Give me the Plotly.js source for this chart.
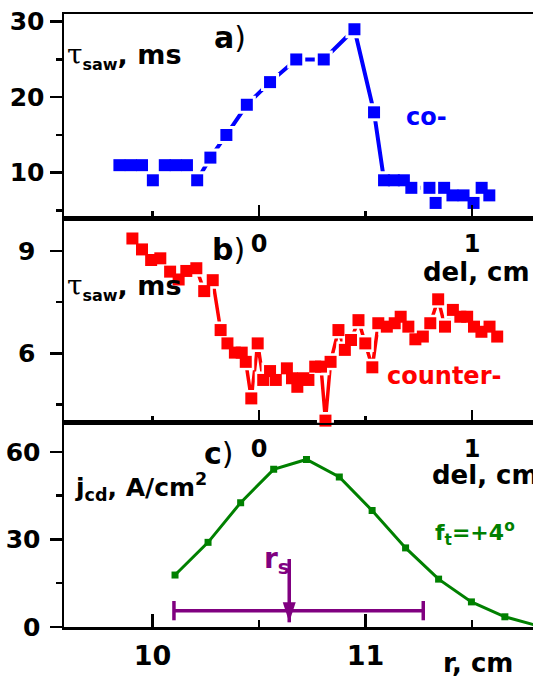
<!DOCTYPE html>
<html><head><meta charset="utf-8">
<script src="https://cdn.plot.ly/plotly-3.0.1.min.js"></script>
<style>html,body{margin:0;padding:0;background:#fff;}#chart{width:533px;height:678px;}</style>
</head><body><div id="chart"></div>
<script>
// ---- panel a) co- : tau_saw (ms) vs del (cm)
const coDel = [-0.655,-0.602,-0.549,-0.498,-0.442,-0.391,-0.338,-0.290,-0.228,-0.153,-0.057,0.052,0.175,0.304,0.448,0.540,0.587,0.633,0.680,0.715,0.800,0.829,0.869,0.908,0.960,1.007,1.045,1.081];
const coTau = [11,11,11,9,11,11,11,9,12,15,19,22,25,25,29,18,9,9,9,8,8,6,8,7,7,6,8,7];
// ---- panel b) counter- : tau_saw (ms) vs del (cm)
const ctrDel = [-0.594,-0.549,-0.506,-0.463,-0.417,-0.377,-0.341,-0.294,-0.257,-0.217,-0.180,-0.148,-0.113,-0.081,-0.062,-0.036,-0.006,0.020,0.052,0.079,0.131,0.155,0.180,0.208,0.232,0.264,0.291,0.312,0.336,0.373,0.403,0.432,0.467,0.499,0.532,0.560,0.600,0.637,0.665,0.701,0.734,0.769,0.804,0.841,0.873,0.910,0.945,0.977,1.009,1.044,1.082,1.118];
const ctrTau = [9.36,9.04,8.73,8.78,8.39,8.16,8.41,8.49,7.82,8.14,6.68,6.29,6.02,6.02,5.75,4.68,6.29,5.22,5.48,5.22,5.56,5.27,5.02,5.27,5.22,5.61,5.61,4.03,5.75,6.68,6.10,6.39,6.97,6.29,5.59,6.88,6.78,6.88,7.07,6.78,6.41,6.49,6.88,7.58,6.78,7.27,7.07,7.07,6.78,6.63,6.78,6.49];
// ---- panel c) j_cd (A/cm2) vs r (cm)
const jR   = [10.106,10.261,10.414,10.569,10.723,10.877,11.031,11.188,11.343,11.497,11.654,11.81];
const jVal = [17.8,29.0,42.6,54.0,57.4,51.4,39.9,27.1,16.4,8.6,3.5,0.4];
// r_s marker and its range bar
const rsBarR = [10.101, 11.271];
const rsBarY = [5.6, 5.6];
const rsCapHalf = 3.3;
const rsR = [10.642, 10.642];
const rsArrowY = [23.3, 1.6];
// ---- ticks
const rTicks = [10, 11], rMinor = [10.5, 11.5];
const delTicks = [0, 1], delMinor = [-0.5, 0.5];
const yaTicks = [10, 20, 30], yaMinor = [5, 15, 25];
const ybTicks = [6, 9], ybMinor = [4.5, 7.5];
const ycTicks = [0, 30, 60], ycMinor = [15, 45];

const BLUE = '#0000ff', RED = '#ff0000', GREEN = '#008000', PURPLE = '#800080', BLACK = '#000000';
const FONT = 'DejaVu Sans, Arial, sans-serif';
const W = 533, H = 678, L = 64, R = 0, T = 14, B = 51;
const pw = W - L - R, ph = H - T - B;
const px = x => (x - L) / pw;
const py = y => (H - B - y) / ph;

function xax(o) {
  return Object.assign({showline: true, linecolor: BLACK, linewidth: 2.5, mirror: true, showgrid: false, zeroline: false,
    ticks: 'inside', ticklen: 13, tickwidth: 2.5, tickcolor: BLACK, tickmode: 'array', fixedrange: true,
    tickfont: {family: FONT, size: 24, color: BLACK, weight: 'bold'}}, o);
}
function yax(o) {
  return Object.assign({showline: true, linecolor: BLACK, linewidth: 2.5, mirror: false, showgrid: false, zeroline: false,
    ticks: 'outside', ticklen: 12, tickwidth: 2.5, tickcolor: BLACK, tickmode: 'array', fixedrange: true,
    tickfont: {family: FONT, size: 25, color: BLACK, weight: 'bold'}}, o);
}
const minorX = v => ({tickmode: 'array', tickvals: v, ticks: 'inside', ticklen: 7, tickwidth: 2.5, tickcolor: BLACK});
const minorY = v => ({tickmode: 'array', tickvals: v, ticks: 'outside', ticklen: 6, tickwidth: 2.5, tickcolor: BLACK});

function ann(text, xPx, yPx, size, color, xanchor, extra) {
  return Object.assign({xref: 'paper', yref: 'paper', x: px(xPx), y: py(yPx), xanchor: xanchor || 'left', yanchor: 'middle',
    text: text, showarrow: false, font: {family: FONT, size: size, color: color, weight: 'bold'}}, extra || {});
}
const tau = '<span style="font-family:DejaVu Serif;font-weight:normal;font-size:28px">τ</span><sub><span style="font-size:16px">saw</span></sub>, ms';
const paren = '<span style="font-weight:normal">)</span>';

const data = [
  {x: coDel, y: coTau, xaxis: 'x3', yaxis: 'y3', mode: 'lines', line: {color: BLUE, width: 4}},
  {x: coDel, y: coTau, xaxis: 'x3', yaxis: 'y3', mode: 'markers', marker: {symbol: 'square', size: 18, color: '#ffffff'}},
  {x: coDel, y: coTau, xaxis: 'x3', yaxis: 'y3', mode: 'markers', marker: {symbol: 'square', size: 12, color: BLUE}, cliponaxis: false},
  {x: ctrDel, y: ctrTau, xaxis: 'x2', yaxis: 'y2', mode: 'lines', line: {color: RED, width: 3.5}},
  {x: ctrDel, y: ctrTau, xaxis: 'x2', yaxis: 'y2', mode: 'markers', marker: {symbol: 'square', size: 17, color: '#ffffff'}},
  {x: ctrDel, y: ctrTau, xaxis: 'x2', yaxis: 'y2', mode: 'markers', marker: {symbol: 'square', size: 12, color: RED}, cliponaxis: false},
  {x: jR, y: jVal, xaxis: 'x', yaxis: 'y', mode: 'lines+markers', line: {color: GREEN, width: 3}, marker: {symbol: 'square', size: 7, color: GREEN}},
  {x: rsBarR, y: rsBarY, xaxis: 'x', yaxis: 'y', mode: 'lines', line: {color: PURPLE, width: 3.5},
   error_y: {type: 'constant', value: rsCapHalf, width: 0, thickness: 3.5, color: PURPLE}},
  {x: rsR, y: rsArrowY, xaxis: 'x', yaxis: 'y', mode: 'lines', line: {color: PURPLE, width: 3.5}},
  {x: rsR.slice(1), y: rsArrowY.slice(1), xaxis: 'x', yaxis: 'y', mode: 'markers', cliponaxis: false,
   marker: {symbol: 'arrow', angle: 180, size: 21, color: PURPLE}}
];

const layout = {
  width: W, height: H, margin: {l: L, r: R, t: T, b: B, pad: 0},
  paper_bgcolor: '#ffffff', plot_bgcolor: '#ffffff', showlegend: false, hovermode: false,
  xaxis: xax({anchor: 'y', range: [9.585, 11.786], tickvals: rTicks, ticktext: rTicks.map(String), minor: minorX(rMinor),
    tickfont: {family: FONT, size: 27, color: BLACK, weight: 'bold'}, ticklabelstandoff: 3}),
  xaxis2: xax({anchor: 'y2', range: [-0.915, 1.286], tickvals: delTicks, ticktext: delTicks.map(String), minor: minorX(delMinor), ticklabelstandoff: 3}),
  xaxis3: xax({anchor: 'y3', range: [-0.915, 1.286], tickvals: delTicks, ticktext: delTicks.map(String), minor: minorX(delMinor), ticklabelstandoff: 2}),
  yaxis: yax({anchor: 'x', domain: [0, 1/3], range: [0, 70], tickvals: ycTicks, ticktext: ycTicks.map(String), minor: minorY(ycMinor), ticklabelstandoff: 4}),
  yaxis2: yax({anchor: 'x2', domain: [1/3, 2/3], range: [3.97, 9.95], tickvals: ybTicks, ticktext: ybTicks.map(String), minor: minorY(ybMinor), ticklabelstandoff: 9}),
  yaxis3: yax({anchor: 'x3', domain: [2/3, 1], range: [3.96, 31.02], tickvals: yaTicks, ticktext: yaTicks.map(String), minor: minorY(yaMinor), ticklabelstandoff: 0}),
  annotations: [
    ann(tau, 65, 56, 27, BLACK),
    ann(tau, 65, 287, 27, BLACK),
    ann('a' + paren, 230, 38, 30, BLACK, 'center'),
    ann('b' + paren, 228, 250, 30, BLACK, 'center'),
    ann('c' + paren, 219, 453, 30, BLACK, 'center'),
    ann('co-', 404, 117, 24, BLUE),
    ann('counter-', 385, 376, 24, RED),
    ann('del, cm', 421, 272, 26, BLACK),
    ann('del, cm', 430, 475, 26, BLACK),
    ann('j<sub>cd</sub>, A/cm<sup>2</sup>', 73, 487, 25, BLACK),
    ann('f<sub>t</sub>=+4<sup>o</sup>', 433, 533, 22, GREEN),
    ann('r<sub>s</sub>', 262, 560, 28, PURPLE),
    ann('r, cm', 441, 663, 26, BLACK)
  ]
};

Plotly.newPlot('chart', data, layout, {staticPlot: true, displayModeBar: false});
</script>
</body></html>
